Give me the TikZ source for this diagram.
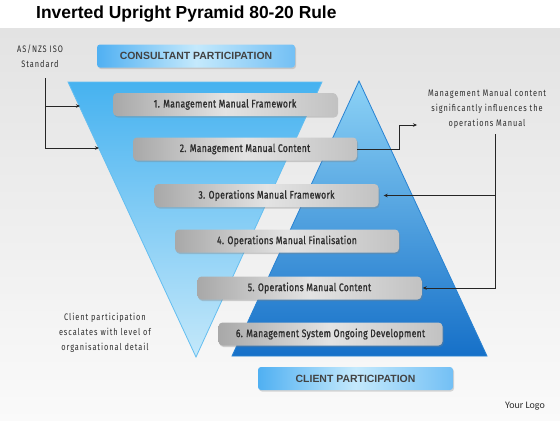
\documentclass[tikz,border=0pt]{standalone}
\usepackage{fontspec}
\setmainfont{Liberation Sans}
\newfontfamily\condfont[FakeStretch=0.78, FakeBold=1.2, LetterSpace=3]{Fira Sans}
\newfontfamily\notefont[FakeStretch=0.78, LetterSpace=10]{Fira Sans}
\newfontfamily\logofont{Carlito}
\usepackage{tikz}
\usetikzlibrary{arrows.meta, positioning, shadows}
\definecolor{mytext}{RGB}{45,45,45}
\definecolor{invtop}{RGB}{70,178,240}
\definecolor{invbot}{RGB}{196,232,250}
\definecolor{invline}{RGB}{100,190,240}
\definecolor{uptop}{RGB}{140,210,246}
\definecolor{upbot}{RGB}{22,112,200}
\definecolor{upline}{RGB}{40,130,210}
\definecolor{hdredge}{RGB}{80,176,242}
\definecolor{hdrmid}{RGB}{196,233,252}
\tikzset{
  stepbox/.style={rectangle, rounded corners=4bp, minimum width=224bp, minimum height=23bp,
    left color=black!34, right color=black!24, middle color=black!11,
    drop shadow={opacity=0.35, shadow xshift=1bp, shadow yshift=-1.5bp},
    font=\condfont\fontsize{11}{12}\selectfont, text=mytext},
  hdrbox/.style={rectangle, rounded corners=3bp, minimum height=23bp,
    left color=hdredge, right color=hdredge!80, middle color=hdrmid,
    drop shadow={opacity=0.3, shadow xshift=1bp, shadow yshift=-1.5bp},
    font=\bfseries\fontsize{10.5}{12}\selectfont, text=mytext!90},
  note/.style={font=\notefont\fontsize{9.5}{15}\selectfont, text=mytext, align=center},
  conn/.style={-{Stealth[length=4bp, width=3.5bp]}, line width=0.6bp, color=black!85}
}

\begin{document}
\begin{tikzpicture}[x=1bp, y=-1bp]
  \useasboundingbox (0,0) rectangle (560,420);
  % backdrop
  \shade[top color=black!11, bottom color=black!2] (0,28) rectangle (560,420);
  % title
  \node[font=\bfseries\fontsize{17.5}{20}\selectfont, anchor=west, inner sep=0pt] (title) at (36,14) {Inverted Upright Pyramid 80-20 Rule};
  % upright pyramid (client)
  \path[draw=upline, line width=0.8bp, top color=uptop, bottom color=upbot] (359,81) -- (487,356) -- (232,356) -- cycle;
  % inverted pyramid (consultant)
  \path[draw=invline, line width=0.8bp, top color=invtop, bottom color=invbot] (68,82) -- (322,82) -- (196,357) -- cycle;
  % participation headers
  \node[hdrbox, minimum width=198bp] (cons) at (196,56) {CONSULTANT PARTICIPATION};
  \node[hdrbox, minimum width=195bp] (clnt) at (355.5,378.5) {CLIENT PARTICIPATION};
  % steps
  \node[stepbox] (b1) at (225,104.5) {1. Management Manual Framework};
  \node[stepbox] (b2) at (245,149) {2. Management Manual Content};
  \node[stepbox] (b3) at (266.5,195.5) {3. Operations Manual Framework};
  \node[stepbox] (b4) at (287,241) {4. Operations Manual Finalisation};
  \node[stepbox] (b5) at (309.5,288) {5. Operations Manual Content};
  \node[stepbox] (b6) at (330.5,334) {6. Management System Ongoing Development};
  % side notes
  \node[note] (iso) at (40,56) {AS/NZS ISO\\Standard};
  \node[note] (infl) at (487,109) {Management Manual content\\significantly influences the\\operations Manual};
  \node[note] (esc) at (105,333) {Client participation\\escalates with level of\\organisational detail};
  \node[font=\logofont\fontsize{10}{12}\selectfont, text=mytext] (logo) at (525,406) {Your Logo};
  % connectors
  \coordinate (isoTop) at (45,78);
  \coordinate (edgeA) at (80,106);
  \coordinate (edgeB) at (99,148);
  \draw[conn] (isoTop) |- (edgeA);
  \draw[conn] (isoTop) |- (edgeB);
  \coordinate (inflTurn) at (399,125);
  \coordinate (inflIn) at (417,125);
  \draw[conn] (b2.east) -| (inflTurn) -- (inflIn);
  \coordinate (inflOut) at (495,134);
  \draw[conn] (inflOut) |- ([xshift=5bp]b3.east);
  \draw[conn] (inflOut) |- ([xshift=1bp]b5.east);
\end{tikzpicture}
\end{document}
